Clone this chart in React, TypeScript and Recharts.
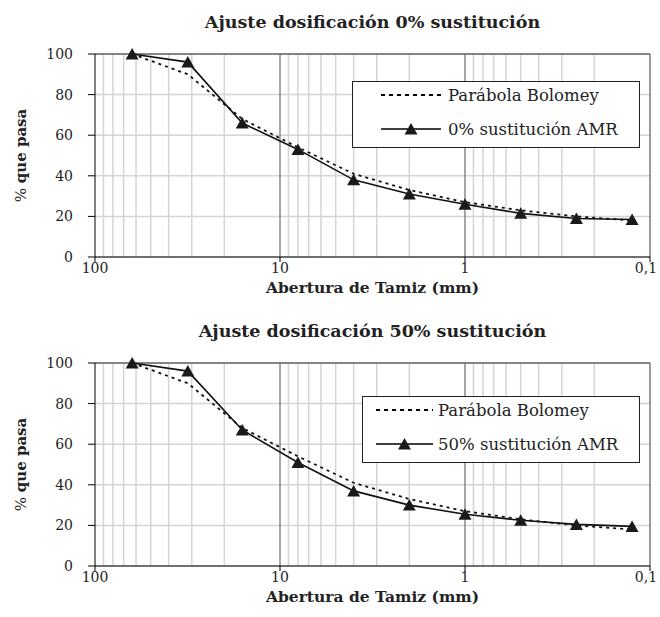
import {
  LineChart,
  Line,
  XAxis,
  YAxis,
  CartesianGrid,
  ReferenceLine,
  Legend,
} from "recharts";

const FONT = "DejaVu Serif, serif";

// sieve openings (mm) and % passing
const sizes = [63, 31.5, 16, 8, 4, 2, 1, 0.5, 0.25, 0.125];
const bolomey = [100, 90, 68, 54, 41, 33, 27, 23, 20, 18];
const amr0 = [100, 96, 66, 53, 38, 31, 26, 21.5, 19, 18.5];
const amr50 = [100, 96, 67, 51, 37, 30, 25.5, 22.5, 20.5, 19.5];

const xTicks = [100, 10, 1, 0.1];
const yTicks = [0, 20, 40, 60, 80, 100];
const minorGrid = [90, 80, 70, 60, 50, 40, 30, 20, 9, 8, 7, 6, 5, 4, 3, 2, 0.9, 0.8, 0.7, 0.6, 0.5, 0.4, 0.3, 0.2];
const majorGrid = [10, 1];

const fmtX = (v: number) => String(v).replace(".", ",");

const Triangle = (props: any) => {
  const { cx, cy } = props;
  if (cx == null || cy == null) return null;
  return (
    <polygon
      points={`${cx - 6.5},${cy + 5.5} ${cx + 6.5},${cy + 5.5} ${cx},${cy - 6}`}
      fill="#1a1a1a"
    />
  );
};

const XTick = ({ x, y, payload }: any) => {
  // keep the last label inside the page
  const tx = Math.min(x, 646);
  return (
    <g>
      <line x1={x} x2={x} y1={y} y2={y + 5} stroke="#000" />
      <text x={tx} y={y + 16} textAnchor="middle" fontSize={14} fontFamily={FONT} fill="#222">
        {fmtX(payload.value)}
      </text>
    </g>
  );
};

const YTick = ({ x, y, payload }: any) => (
  <g>
    <line x1={x - 7} x2={x} y1={y} y2={y} stroke="#000" />
    <text x={x - 22} y={y + 5} textAnchor="end" fontSize={14} fontFamily={FONT} fill="#222">
      {payload.value}
    </text>
  </g>
);

const XTitle = ({ viewBox }: any) => (
  <text
    x={viewBox.x + viewBox.width / 2}
    y={viewBox.y + 36}
    textAnchor="middle"
    fontSize={15.5}
    fontWeight="bold"
    fontFamily={FONT}
    fill="#222"
  >
    Abertura de Tamiz (mm)
  </text>
);

const YTitle = ({ viewBox }: any) => {
  const cx = 21;
  const cy = viewBox.y + viewBox.height / 2;
  return (
    <text
      x={cx}
      y={cy}
      transform={`rotate(-90 ${cx} ${cy})`}
      textAnchor="middle"
      dominantBaseline="central"
      fontSize={15}
      fontFamily={FONT}
      fill="#222"
    >
      <tspan>% </tspan>
      <tspan fontWeight="bold">que pasa</tspan>
    </text>
  );
};

interface LegendProps {
  name: string;
  w: number;
  lx1: number;
  lx2: number;
  tx: number;
}

const LegendBox = ({ name, w, lx1, lx2, tx }: LegendProps) => {
  const mid = (lx1 + lx2) / 2;
  return (
    <div
      style={{
        width: w,
        height: 67,
        border: "1px solid #222",
        background: "#fff",
        boxSizing: "border-box",
      }}
    >
      <svg width={w - 2} height={65} style={{ display: "block" }}>
        <line x1={lx1} x2={lx2} y1={13} y2={13} stroke="#000" strokeWidth={2} strokeDasharray="4 4" />
        <text x={tx} y={19} fontSize={16.5} fontFamily={FONT} fill="#222">
          Parábola Bolomey
        </text>
        <line x1={lx1} x2={lx2} y1={47} y2={47} stroke="#000" strokeWidth={1.5} />
        <polygon points={`${mid - 6.5},${52.5} ${mid + 6.5},${52.5} ${mid},${41}`} fill="#1a1a1a" />
        <text x={tx} y={53} fontSize={16.5} fontFamily={FONT} fill="#222">
          {name}
        </text>
      </svg>
    </div>
  );
};

interface PanelProps {
  title: string;
  name: string;
  amr: number[];
  legendLeft: number;
  legendTop: number;
  legend: LegendProps;
}

function Panel({ title, name, amr, legendLeft, legendTop, legend }: PanelProps) {
  const data = sizes.map((d, i) => ({ d, bolomey: bolomey[i], amr: amr[i] }));
  return (
    <div style={{ position: "relative", width: 660, height: 309 }}>
      <div
        style={{
          position: "absolute",
          left: 95,
          width: 555,
          top: 9,
          textAlign: "center",
          fontFamily: FONT,
          fontWeight: "bold",
          fontSize: 17.5,
          lineHeight: "26px",
          color: "#222",
        }}
      >
        {title}
      </div>
      <LineChart
        width={660}
        height={309}
        data={data}
        margin={{ top: 54, right: 10, bottom: 0, left: 0 }}
      >
        <CartesianGrid vertical={false} stroke="#d4d4d4" strokeWidth={1.5} />
        {minorGrid.map((v) => (
          <ReferenceLine key={v} x={v} stroke="#d4d4d4" strokeWidth={1.5} zIndex={-50} />
        ))}
        {majorGrid.map((v) => (
          <ReferenceLine key={v} x={v} stroke="#777" strokeWidth={1.3} zIndex={-50} />
        ))}
        <ReferenceLine y={100} stroke="#666" strokeWidth={1.3} zIndex={-50} />
        <ReferenceLine x={0.1} stroke="#666" strokeWidth={1.3} zIndex={-50} />
        <XAxis
          dataKey="d"
          type="number"
          scale="log"
          domain={[0.1, 100]}
          reversed
          ticks={xTicks}
          interval={0}
          tickSize={0}
          tickMargin={0}
          tickLine={false}
          tick={<XTick />}
          stroke="#000"
          height={52}
          label={<XTitle />}
        />
        <YAxis
          type="number"
          domain={[0, 100]}
          ticks={yTicks}
          interval={0}
          tickSize={0}
          tickMargin={0}
          tickLine={false}
          tick={<YTick />}
          stroke="#000"
          width={95}
          label={<YTitle />}
        />
        <Line
          dataKey="bolomey"
          type="linear"
          stroke="#111"
          strokeWidth={1.8}
          strokeDasharray="3 4"
          dot={false}
          isAnimationActive={false}
        />
        <Line
          dataKey="amr"
          type="linear"
          stroke="#111"
          strokeWidth={1.6}
          dot={<Triangle />}
          isAnimationActive={false}
        />
        <Legend
          layout="vertical"
          align="center"
          verticalAlign="middle"
          wrapperStyle={{ position: "absolute", left: legendLeft, top: legendTop, width: legend.w, height: 67 }}
          content={() => <LegendBox {...legend} name={name} />}
        />
      </LineChart>
    </div>
  );
}

export default function App() {
  return (
    <div style={{ position: "absolute", left: 0, top: 0, width: 660, height: 617, background: "#fff" }}>
      <Panel
        title="Ajuste dosificación 0% sustitución"
        name="0% sustitución AMR"
        amr={amr0}
        legendLeft={352}
        legendTop={81}
        legend={{ name: "", w: 288, lx1: 28, lx2: 88, tx: 95 }}
      />
      <Panel
        title="Ajuste dosificación 50% sustitución"
        name="50% sustitución AMR"
        amr={amr50}
        legendLeft={362}
        legendTop={87}
        legend={{ name: "", w: 278, lx1: 13, lx2: 70, tx: 75 }}
      />
    </div>
  );
}
